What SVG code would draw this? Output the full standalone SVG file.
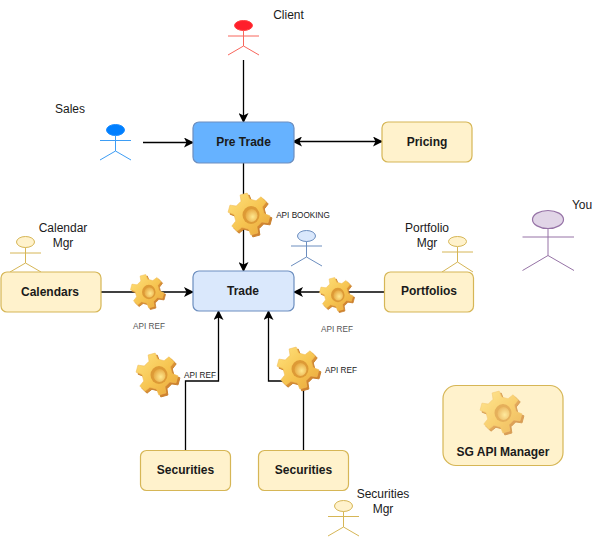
<svg xmlns="http://www.w3.org/2000/svg" xmlns:xlink="http://www.w3.org/1999/xlink" width="613" height="537" viewBox="0 0 613 537">
<style>
text{font-family:"Liberation Sans",Arial,sans-serif;fill:#1a1a1a;text-anchor:middle}
.lbl{font-size:12px}
.api{font-size:8.200px}
.grey{fill:#555}
.node{stroke-width:1.2}
.name{font-size:12px;font-weight:bold}
.y{fill:#fff2cc;stroke:#d6b656}
.conn path{fill:none;stroke:#000;stroke-width:1.3}
</style>
<defs>
<linearGradient id="gf" x1="0" y1="0" x2="1" y2="1"><stop offset="0" stop-color="#ffe27e"/><stop offset=".55" stop-color="#f6c450"/><stop offset="1" stop-color="#e8a63c"/></linearGradient>
<linearGradient id="gd" x1="0" y1="0" x2="1" y2="1"><stop offset="0" stop-color="#eeb040"/><stop offset="1" stop-color="#c9762a"/></linearGradient>
<radialGradient id="gh" cx=".6" cy=".6" r=".7"><stop offset="0" stop-color="#ffe88f"/><stop offset="1" stop-color="#e3a038"/></radialGradient>
<path id="gp" d="M14.99-.52 20.92 1.83 19.03 8.87 12.72 7.95 7.95 12.72 8.87 19.03 1.83 20.92-.52 14.99-7.04 13.24-12.05 17.2-17.2 12.05-13.24 7.04-14.99.52-20.92-1.83-19.03-8.87-12.72-7.95-7.95-12.72-8.87-19.03-1.83-20.92.52-14.99 7.04-13.24 12.05-17.2 17.2-12.05 13.24-7.04Z" stroke-linejoin="round"/>
<g id="gear">
<use xlink:href="#gp" href="#gp" x="1" y="1" fill="url(#gd)" stroke="#c9822f" stroke-width="1"/>
<use xlink:href="#gp" href="#gp" x="-1" y="-1" fill="url(#gf)" stroke="#f2bd55" stroke-width=".6"/>
<ellipse cx="1" cy="0" rx="8.500" ry="9" fill="#dd9a36"/>
<ellipse cx="1.500" cy="0.500" rx="6" ry="6.500" fill="url(#gh)"/>
</g>
<marker id="end" viewBox="0 0 10 10" refX="9" refY="5" markerWidth="10" markerHeight="10" markerUnits="userSpaceOnUse" orient="auto-start-reverse"><path d="M0 0 10 5 0 10 2.500 5Z" fill="#000"/></marker>
</defs>
<g id="actor-calendar"><g fill="#fff2cc" stroke="#d6b656"><ellipse cx="25.500" cy="242" rx="9" ry="5.500"/><path d="M10 253H41M25.500 247.500V263M25.500 263 10 272M25.500 263 41 272" fill="none"/></g></g>
<g id="actor-portfolio"><g fill="#fff2cc" stroke="#d6b656"><ellipse cx="457.500" cy="241.500" rx="9" ry="5"/><path d="M442 252H473M457.500 247V262M457.500 262 442 272M457.500 262 473 272" fill="none"/></g></g>
<g class="conn" id="connectors">
<path d="M243.500 60V122" marker-end="url(#end)"/>
<path d="M143 142.500H193" marker-end="url(#end)"/>
<path d="M293 141.500H382" marker-start="url(#end)" marker-end="url(#end)"/>
<path d="M243.500 163V271" marker-end="url(#end)"/>
<path d="M101 292H193" marker-end="url(#end)"/>
<path d="M384 292H294" marker-end="url(#end)"/>
<path d="M185.500 450V381H218.500V311" marker-end="url(#end)"/>
<path d="M303.500 450V381H268.500V311" marker-end="url(#end)"/>
</g>
<g id="pretrade"><rect class="node" x="193" y="122" width="101" height="41" rx="6" fill="#66b2ff" stroke="#6c8ebf"/><text class="name" x="243.500" y="146">Pre Trade</text></g>
<g id="pricing"><rect class="node y" x="382" y="122" width="90" height="40" rx="6"/><text class="name" x="427" y="146">Pricing</text></g>
<g id="trade"><rect class="node" x="193" y="271" width="101" height="40" rx="6" fill="#dae8fc" stroke="#6c8ebf"/><text class="name" x="243" y="295">Trade</text></g>
<g id="calendars"><rect class="node y" x="1" y="272" width="100" height="40" rx="6"/><text class="name" x="50" y="296">Calendars</text></g>
<g id="portfolios"><rect class="node y" x="384.500" y="272" width="89" height="40" rx="6"/><text class="name" x="429" y="295">Portfolios</text></g>
<g id="securities1"><rect class="node y" x="140.500" y="450.500" width="90" height="40" rx="6"/><text class="name" x="185.500" y="474">Securities</text></g>
<g id="securities2"><rect class="node y" x="258.500" y="450.500" width="90" height="40" rx="6"/><text class="name" x="303.500" y="474">Securities</text></g>
<g id="sgapi"><rect class="node y" x="443" y="385.500" width="120" height="80" rx="13"/><use xlink:href="#gear" href="#gear" x="502" y="413" opacity=".75"/><text class="name" x="503" y="456">SG API Manager</text></g>
<g id="gear-booking"><use xlink:href="#gear" href="#gear" x="250" y="215"/><text class="api" x="303" y="218">API BOOKING</text></g>
<g id="gear-cal"><use xlink:href="#gear" href="#gear" transform="translate(148 292) scale(.8)"/><text class="api grey" x="149" y="329">API REF</text></g>
<g id="gear-port"><use xlink:href="#gear" href="#gear" transform="translate(337 295) scale(.8)"/><text class="api grey" x="337" y="332">API REF</text></g>
<g id="gear-sec1"><use xlink:href="#gear" href="#gear" x="158" y="375"/><text class="api" x="200" y="378">API REF</text></g>
<g id="gear-sec2"><use xlink:href="#gear" href="#gear" x="299" y="369"/><text class="api" x="341" y="373">API REF</text></g>
<g id="client"><ellipse cx="243.500" cy="25.500" rx="9" ry="5" fill="#ff1f2b" stroke="#ff4040"/><path d="M228 36H259M243.500 31V46M243.500 46 228 55M243.500 46 259 55" fill="none" stroke="#f8665c"/><text class="lbl" x="288.500" y="19">Client</text></g>
<g id="sales"><ellipse cx="115.500" cy="130" rx="9" ry="5.500" fill="#007fff" stroke="#1a8cff"/><path d="M100 140.500H131M115.500 135.500V151M115.500 151 100 160M115.500 151 131 160" fill="none" stroke="#3d9df5"/><text class="lbl" x="70" y="113">Sales</text></g>
<g id="trader"><ellipse cx="306.500" cy="236" rx="9" ry="5.500" fill="#dae8fc" stroke="#6c8ebf"/><path d="M291 246H322M306.500 241.500V257M306.500 257 291 266M306.500 257 322 266" fill="none" stroke="#6c8ebf"/></g>
<g id="you"><ellipse cx="548" cy="219.500" rx="15.500" ry="9" fill="#e1d5e7" stroke="#9673a6" stroke-width="1.200"/><path d="M522.500 237H574M548 228.500V255.500M548 255.500 522.500 270.500M548 255.500 574 270.500" fill="none" stroke="#9673a6"/><text class="lbl" x="582" y="209">You</text></g>
<g id="secmgr"><ellipse cx="343.500" cy="506" rx="9" ry="5.500" fill="#fff2cc" stroke="#d6b656"/><path d="M328 516.500H359M343.500 511.500V527M343.500 527 328 536M343.500 527 359 536" fill="none" stroke="#d6b656"/></g>
<text class="lbl"><tspan x="63" y="232">Calendar</tspan><tspan x="63" y="247">Mgr</tspan></text>
<text class="lbl"><tspan x="427" y="232">Portfolio</tspan><tspan x="427" y="247">Mgr</tspan></text>
<text class="lbl"><tspan x="383" y="498">Securities</tspan><tspan x="383" y="513">Mgr</tspan></text>
</svg>
